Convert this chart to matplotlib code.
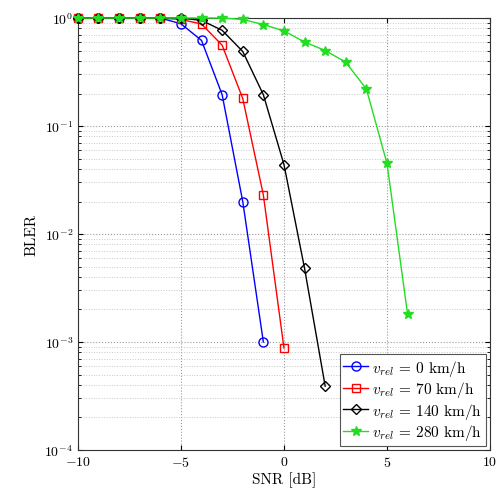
import matplotlib
matplotlib.use('Agg')
import matplotlib.pyplot as plt
from matplotlib.ticker import LogLocator, NullFormatter, MultipleLocator

plt.rcParams['font.family'] = 'serif'
plt.rcParams['font.serif'] = ['cmr10', 'DejaVu Serif']
plt.rcParams['mathtext.fontset'] = 'cm'
plt.rcParams['axes.formatter.use_mathtext'] = True
plt.rcParams['axes.unicode_minus'] = False

# BLER vs SNR for several relative velocities
snr_0 = [-10, -9, -8, -7, -6, -5, -4, -3, -2, -1]
bler_0 = [1, 1, 1, 1, 1, 0.885, 0.62, 0.195, 0.020, 0.001]

snr_70 = [-10, -9, -8, -7, -6, -5, -4, -3, -2, -1, 0]
bler_70 = [1, 1, 1, 1, 1, 0.97, 0.88, 0.56, 0.18, 0.023, 0.00088]

snr_140 = [-10, -9, -8, -7, -6, -5, -4, -3, -2, -1, 0, 1, 2]
bler_140 = [1, 1, 1, 1, 1, 1, 0.95, 0.77, 0.49, 0.195, 0.044, 0.0048, 0.00039]

snr_280 = [-10, -9, -8, -7, -6, -5, -4, -3, -2, -1, 0, 1, 2, 3, 4, 5, 6]
bler_280 = [1, 1, 1, 1, 1, 1, 1, 1, 0.97, 0.87, 0.76, 0.60, 0.50, 0.39, 0.22,
            0.045, 0.0018]

labels = [r'$v_{rel}$ = 0 km/h', r'$v_{rel}$ = 70 km/h',
          r'$v_{rel}$ = 140 km/h', r'$v_{rel}$ = 280 km/h']

fig = plt.figure(figsize=(4.96, 5.02), dpi=100)
ax = fig.add_axes([0.157, 0.1016, 0.831, 0.8605])

ax.semilogy(snr_0, bler_0, '-o', color='#0000ff', mfc='none', ms=6.5, lw=1,
            label=labels[0], clip_on=False, zorder=3)
ax.semilogy(snr_70, bler_70, '-s', color='#ff0000', mfc='none', ms=6, lw=1,
            label=labels[1], clip_on=False, zorder=3)
ax.semilogy(snr_140, bler_140, '-D', color='black', mfc='none', ms=5.5, lw=1,
            label=labels[2], clip_on=False, zorder=3)
ax.semilogy(snr_280, bler_280, '-*', color='#22dd22', mfc='#22dd22', ms=7, lw=1,
            label=labels[3], clip_on=False, zorder=4)

ax.set_xlim(-10, 10)
ax.set_ylim(1e-4, 1)
ax.xaxis.set_major_locator(MultipleLocator(5))
ax.yaxis.set_major_locator(LogLocator(base=10, numticks=10))
ax.yaxis.set_minor_locator(LogLocator(base=10, subs=range(2, 10), numticks=20))
ax.yaxis.set_minor_formatter(NullFormatter())

ax.grid(True, which='major', linestyle=':', color='#999999', lw=0.8)
ax.grid(True, which='minor', linestyle=':', color='#c8c8c8', lw=0.7)
ax.tick_params(direction='in', which='both', top=True, right=True, labelsize=10)
for s in ax.spines.values():
    s.set_color('#333333')
    s.set_linewidth(0.8)

ax.set_xlabel('SNR [dB]', fontsize=11, labelpad=2)
ax.set_ylabel('BLER', fontsize=11, labelpad=4)

leg = ax.legend(loc='lower right', fontsize=11, fancybox=False,
                edgecolor='#555555', framealpha=1, handlelength=1.6,
                handletextpad=0.3, borderpad=0.25, labelspacing=0.1,
                borderaxespad=0.25)
leg.get_frame().set_linewidth(0.8)

fig.savefig('out.png', dpi=100)
